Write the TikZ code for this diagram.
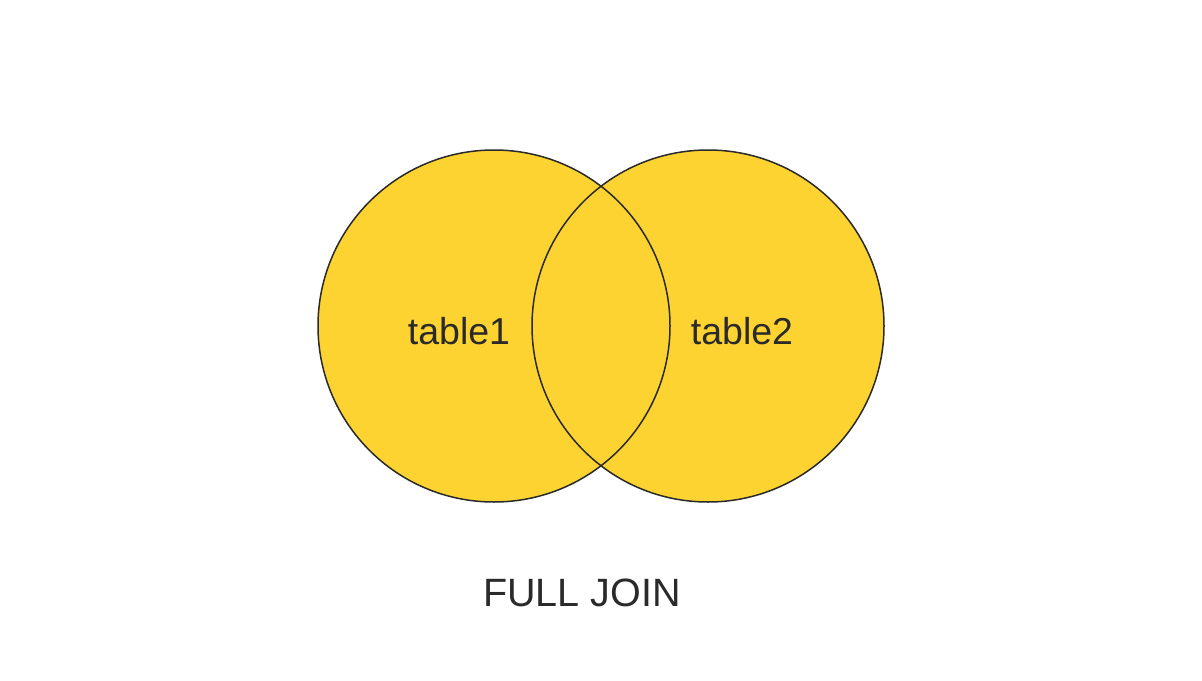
\documentclass[tikz,border=0pt]{standalone}
\usepackage{fontspec}
\setmainfont{Liberation Sans}
\definecolor{venn}{HTML}{FCD331}
\definecolor{ink}{HTML}{2A2A2A}
\begin{document}
\begin{tikzpicture}[x=1pt,y=-1pt,
  setc/.style={circle,fill=venn,minimum size=352pt,inner sep=0pt},
  ring/.style={circle,draw=ink,line width=1.5pt,minimum size=352pt,inner sep=0pt},
  lbl/.style={text=ink,font=\fontsize{37.5}{42}\selectfont,inner sep=0pt}]
\useasboundingbox (0,0) rectangle (1202,680);
\fill[white] (0,0) rectangle (1202,680);
\node[setc] (c1) at (494,326) {};
\node[setc] (c2) at (708,326) {};
\node[ring] (r1) at (c1.center) {};
\node[ring] (r2) at (c2.center) {};
\node[lbl] (t1) at (459,331) {table1};
\node[lbl] (t2) at (742,331) {table2};
\node[lbl,font=\fontsize{39.5}{44}\selectfont] (fj) at (582,593) {FULL JOIN};
\end{tikzpicture}
\end{document}
